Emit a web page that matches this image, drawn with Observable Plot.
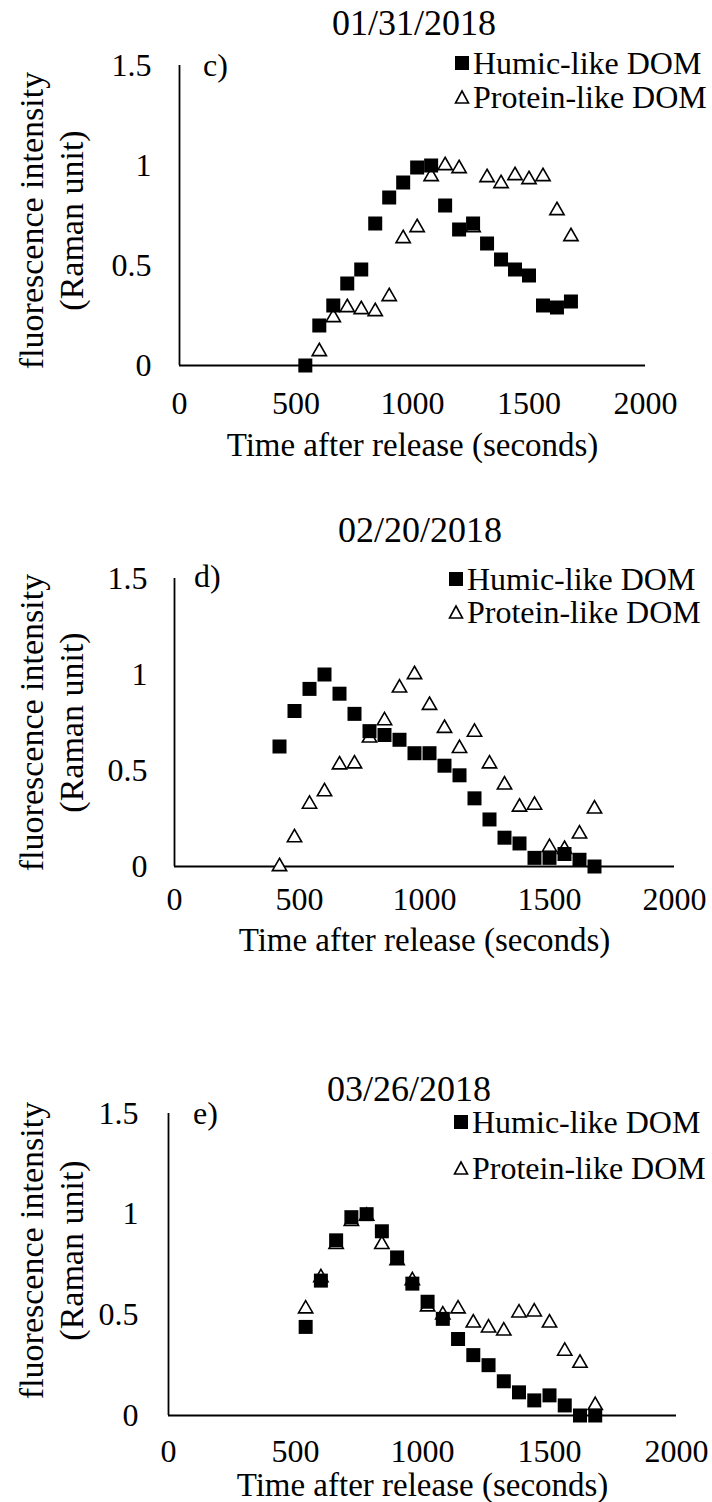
<!DOCTYPE html>
<html>
<head>
<meta charset="utf-8">
<script src="https://cdn.jsdelivr.net/npm/d3@7"></script>
<script src="https://cdn.jsdelivr.net/npm/@observablehq/plot@0.6"></script>
<style>
  html, body { margin: 0; padding: 0; background: #fff; }
  #root { position: relative; width: 712px; height: 1502px; overflow: hidden;
          font-family: "Liberation Serif", "DejaVu Serif", serif; color: #000; }
  svg.chart { position: absolute; left: 0; }
  .ptitle { position: absolute; font-size: 36px; line-height: 1; white-space: nowrap; transform: translate(-50%, -50%); }
  .ptag { position: absolute; font-size: 32px; line-height: 1; white-space: nowrap; transform: translateY(-50%); }
  .lrow { position: absolute; font-size: 32px; line-height: 1; white-space: nowrap; display: flex; align-items: center; transform: translateY(-50%); }
  .lrow svg { display: block; margin-right: 3px; }
</style>
</head>
<body>
<div id="root"></div>
<script>
// ---------- data ----------
const xTicks = [0, 500, 1000, 1500, 2000];
const yTicks = [0, 0.5, 1, 1.5];
const seriesNames = ["Humic-like DOM", "Protein-like DOM"];
const panelDates = ["01/31/2018", "02/20/2018", "03/26/2018"];
const panelTags = ["c)", "d)", "e)"];
const xLabel = "Time after release (seconds)";
const yLabel = "fluorescence intensity\n(Raman unit)";

// panel c (01/31/2018)
const timeC_humic = [540, 600, 660, 720, 780, 840, 900, 960, 1020, 1080, 1140, 1200, 1260, 1320, 1380, 1440, 1500, 1560, 1620, 1680];
const humicC = [0.00, 0.20, 0.30, 0.41, 0.48, 0.71, 0.84, 0.915, 0.99, 1.00, 0.80, 0.68, 0.71, 0.61, 0.53, 0.48, 0.45, 0.30, 0.29, 0.32];
const timeC_protein = [600, 660, 720, 780, 840, 900, 960, 1020, 1080, 1140, 1200, 1260, 1320, 1380, 1440, 1500, 1560, 1620, 1680];
const proteinC = [0.07, 0.24, 0.29, 0.28, 0.27, 0.345, 0.635, 0.69, 0.945, 1.00, 0.985, 0.69, 0.94, 0.91, 0.95, 0.93, 0.945, 0.775, 0.645];

// panel d (02/20/2018)
const timeD = [420, 480, 540, 600, 660, 720, 780, 840, 900, 960, 1020, 1080, 1140, 1200, 1260, 1320, 1380, 1440, 1500, 1560, 1620, 1680];
const humicD = [0.625, 0.81, 0.925, 1.00, 0.90, 0.795, 0.705, 0.685, 0.66, 0.59, 0.59, 0.525, 0.475, 0.355, 0.245, 0.15, 0.12, 0.045, 0.045, 0.065, 0.035, 0.00];
const proteinD = [0.00, 0.15, 0.325, 0.39, 0.53, 0.535, 0.67, 0.76, 0.93, 1.00, 0.84, 0.72, 0.615, 0.70, 0.535, 0.425, 0.31, 0.32, 0.10, 0.09, 0.17, 0.30];

// panel e (03/26/2018)
const timeE = [540, 600, 660, 720, 780, 840, 900, 960, 1020, 1080, 1140, 1200, 1260, 1320, 1380, 1440, 1500, 1560, 1620, 1680];
const humicE = [0.44, 0.67, 0.87, 0.985, 1.00, 0.915, 0.785, 0.655, 0.565, 0.48, 0.38, 0.30, 0.25, 0.17, 0.115, 0.075, 0.10, 0.05, 0.00, 0.00];
const proteinE = [0.53, 0.685, 0.85, 0.965, 0.99, 0.85, 0.77, 0.67, 0.54, 0.50, 0.53, 0.46, 0.435, 0.42, 0.51, 0.515, 0.46, 0.32, 0.26, 0.05];

// ---------- layout (page pixels) ----------
const layouts = [
  {left: 179, right: 645, y15: 65, y0: 365, xPad: 26, yPad: 28, xTitleDy: 80, yTitleX: 50, yTitleY: 220,
   titleX: 414, titleY: 23, tagX: 203, tagY: 65, legX: 462, legY: [63, 97], mb: 100},
  {left: 174, right: 674, y15: 578, y0: 866, xPad: 21, yPad: 27, xTitleDy: 74, yTitleX: 50, yTitleY: 722,
   titleX: 420, titleY: 530, tagX: 194, tagY: 576, legX: 456, legY: [579, 612], mb: 100},
  {left: 168, right: 676, y15: 1113, y0: 1415, xPad: 24, yPad: 30, xTitleDy: 70, yTitleX: 50, yTitleY: 1250,
   titleX: 409, titleY: 1089, tagX: 193, tagY: 1113, legX: 461, legY: [1122, 1168], mb: 87}
];

const root = document.getElementById("root");

function rows(ts, vs) { return ts.map((t, k) => ({t, v: vs[k]})); }

function squareIcon() {
  return `<svg width="16" height="16" viewBox="0 0 16 16"><rect x="1" y="1" width="14" height="14" fill="#000"/></svg>`;
}
function triangleIcon() {
  return `<svg width="16" height="16" viewBox="0 0 16 16"><polygon points="8,2 14.5,14 1.5,14" fill="#fff" stroke="#000" stroke-width="1.6"/></svg>`;
}

function makePanel(i, humic, protein) {
  const L = layouts[i];
  const svgTop = L.y15 - 25;
  const plot = Plot.plot({
    width: 712,
    height: (L.y0 - svgTop) + L.mb,
    marginLeft: L.left,
    marginRight: 712 - L.right,
    marginTop: L.y15 - svgTop,
    marginBottom: L.mb,
    x: {domain: [xTicks[0], xTicks[xTicks.length - 1]]},
    y: {domain: [yTicks[0], yTicks[yTicks.length - 1]]},
    style: {fontFamily: "'Liberation Serif', 'DejaVu Serif', serif", fontSize: "32px", color: "#000", background: "transparent", overflow: "visible"},
    marks: [
      Plot.ruleX([xTicks[0]], {stroke: "#000", strokeWidth: 1.8}),
      Plot.ruleY([yTicks[0]], {stroke: "#000", strokeWidth: 1.8}),
      Plot.axisX({ticks: xTicks, tickSize: 0, tickPadding: L.xPad, tickFormat: d => `${d}`, label: null}),
      Plot.axisY({ticks: yTicks, tickSize: 0, tickPadding: L.yPad, tickFormat: d => `${d}`, label: null}),
      Plot.text([xLabel], {frameAnchor: "bottom", lineAnchor: "middle", textAnchor: "middle", fontSize: 33, dy: L.xTitleDy, text: d => d}),
      Plot.text([yLabel], {frameAnchor: "left", rotate: -90, lineHeight: 1.15, textAnchor: "middle", lineAnchor: "middle", fontSize: 34,
        dx: L.yTitleX - L.left, dy: L.yTitleY - (L.y15 + L.y0) / 2, text: d => d}),
      Plot.dot(protein, {x: "t", y: "v", symbol: "triangle", r: 5.3, fill: "#fff", stroke: "#000", strokeWidth: 1.6}),
      Plot.dot(humic, {x: "t", y: "v", symbol: "square", r: 7.9, fill: "#000", stroke: "none"})
    ]
  });
  plot.classList.add("chart");
  plot.style.top = svgTop + "px";
  root.appendChild(plot);

  const title = document.createElement("div");
  title.className = "ptitle";
  title.style.left = L.titleX + "px";
  title.style.top = L.titleY + "px";
  title.textContent = panelDates[i];
  root.appendChild(title);

  const tag = document.createElement("div");
  tag.className = "ptag";
  tag.style.left = L.tagX + "px";
  tag.style.top = L.tagY + "px";
  tag.textContent = panelTags[i];
  root.appendChild(tag);

  seriesNames.forEach((name, k) => {
    const row = document.createElement("div");
    row.className = "lrow";
    row.style.left = (L.legX - 8) + "px";
    row.style.top = L.legY[k] + "px";
    row.innerHTML = (k === 0 ? squareIcon() : triangleIcon()) + `<span>${name}</span>`;
    root.appendChild(row);
  });
}

makePanel(0, rows(timeC_humic, humicC), rows(timeC_protein, proteinC));
makePanel(1, rows(timeD, humicD), rows(timeD, proteinD));
makePanel(2, rows(timeE, humicE), rows(timeE, proteinE));
</script>
</body>
</html>
